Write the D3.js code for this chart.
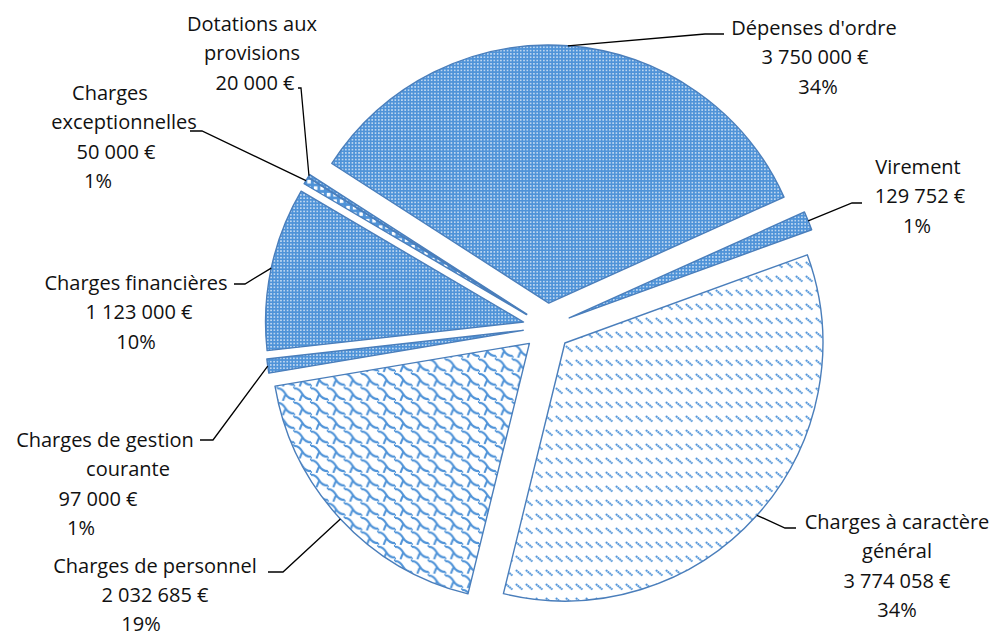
<!DOCTYPE html>
<html>
<head>
<meta charset="utf-8">
<script src="https://cdn.jsdelivr.net/npm/d3@7"></script>
<style>
  body { margin: 0; background: #fff; }
  text { font-family: "Open Sans", sans-serif; font-size: 20px; fill: #111; }
</style>
</head>
<body>
<script>
// budget lines, in the order Excel draws them (clockwise)
var categories = ["Charges à caractère général", "Charges de personnel", "Charges de gestion courante",
                  "Charges financières", "Charges exceptionnelles", "Dotations aux provisions",
                  "Dépenses d'ordre", "Virement"];
var nameLines = [["Charges à caractère", "général"], ["Charges de personnel"], ["Charges de gestion", "courante"],
                 ["Charges financières"], ["Charges", "exceptionnelles"], ["Dotations aux", "provisions"],
                 ["Dépenses d'ordre"], ["Virement"]];
var amounts = [3774058, 2032685, 97000, 1123000, 50000, 20000, 3750000, 129752];
var percentLabels = ["34%", "19%", "1%", "10%", "1%", "", "34%", "1%"];
var patterns = ["dash", "shingle", "dots", "dots", "grid", "dots", "dots", "dots"];

var width = 997,
    height = 636,
    cx = 547, cy = 327,
    radius = 258,
    explode = 24,
    lineH = 29.3,
    blue = '#4f93d8',
    edge = '#4a7ebb';

var fr = d3.formatLocale({decimal: ',', thousands: ' ', grouping: [3], currency: ['', ' €']});
var money = fr.format('$,.0f');

// label placement: x of each line centre, first baseline, leader elbow and end
var layout = [
    {xs: [897, 897, 897, 897], y: 529, elbow: [785, 528], end: [796, 528]},
    {xs: [155, 155, 141],      y: 573, elbow: [283, 572], end: [268, 572]},
    {xs: [105, 128, 98, 81],   y: 447, elbow: [213, 440], end: [200, 440]},
    {xs: [136, 139, 136],      y: 290, elbow: [245, 284], end: [234, 284]},
    {xs: [110, 124, 116, 98],  y: 100, elbow: [202, 131], end: [190, 131]},
    {xs: [252, 252, 255],      y: 31,  elbow: [301, 88],  end: [298, 88]},
    {xs: [814, 815, 818],      y: 35,  elbow: [705, 34],  end: [724, 34]},
    {xs: [918, 920, 917],      y: 174, elbow: [852, 203], end: [862, 203]}
];

var svg = d3.select('body').append('svg')
    .attr('width', width)
    .attr('height', height);

var defs = svg.append('defs');

var p = defs.append('pattern').attr('id', 'dots')
    .attr('patternUnits', 'userSpaceOnUse').attr('width', 3.3).attr('height', 3.3);
p.append('rect').attr('width', 3.3).attr('height', 3.3).attr('fill', blue);
p.append('rect').attr('x', 1).attr('y', 1).attr('width', 1.3).attr('height', 1.3).attr('fill', '#fff');

p = defs.append('pattern').attr('id', 'grid')
    .attr('patternUnits', 'userSpaceOnUse').attr('width', 6.5).attr('height', 6.5);
p.append('rect').attr('width', 6.5).attr('height', 6.5).attr('fill', blue);
p.append('rect').attr('x', 1.8).attr('y', 1.8).attr('width', 3.6).attr('height', 3.6).attr('fill', '#fff');

p = defs.append('pattern').attr('id', 'dash')
    .attr('patternUnits', 'userSpaceOnUse').attr('width', 10).attr('height', 14);
p.append('rect').attr('width', 10).attr('height', 14).attr('fill', '#fff');
p.append('line').attr('x1', 1).attr('y1', 3).attr('x2', 7.5).attr('y2', 8.5)
    .attr('stroke', blue).attr('stroke-width', 2).attr('stroke-dasharray', '1.8 0.5');

p = defs.append('pattern').attr('id', 'shingle')
    .attr('patternUnits', 'userSpaceOnUse').attr('width', 14).attr('height', 12)
    .attr('patternTransform', 'scale(1.2)');
p.append('rect').attr('width', 14).attr('height', 12).attr('fill', '#fff');
p.append('path')
    .attr('d', 'M0,1.5 C3.5,1.5 5,3.5 7,6.5 C8.5,9 10.5,10.5 14,10.5 M7,6.5 C5.5,8.5 5.5,10 4.5,12 M14,-1.5 L14,1.5 M0,10.5 L0,13')
    .attr('fill', 'none').attr('stroke', blue).attr('stroke-width', 1.7);

var pie = d3.pie().sort(null).value((d) => d)
    .startAngle(70 * Math.PI / 180)
    .endAngle(70 * Math.PI / 180 + 2 * Math.PI);

var arcs = pie(amounts);
var arc = d3.arc().innerRadius(0).outerRadius(radius);

function dir(d) {
    var a = (d.startAngle + d.endAngle) / 2;
    return [Math.sin(a), -Math.cos(a)];
}

var chart = svg.append('g').attr('transform', 'translate(' + cx + ',' + cy + ')');

chart.selectAll('path.slice')
    .data(arcs)
    .enter()
    .append('path')
    .attr('class', 'slice')
    .attr('transform', (d) => { var u = dir(d); return 'translate(' + u[0] * explode + ',' + u[1] * explode + ')'; })
    .attr('d', arc)
    .attr('fill', (d, i) => 'url(#' + patterns[i] + ')')
    .attr('stroke', edge)
    .attr('stroke-width', 1.4)
    .attr('stroke-linejoin', 'round');

// leader lines from the middle of each arc
svg.append('g').selectAll('polyline')
    .data(arcs)
    .enter()
    .append('polyline')
    .attr('points', (d, i) => {
        var u = dir(d), k = explode + radius;
        return [[cx + u[0] * k, cy + u[1] * k], layout[i].elbow, layout[i].end].join(' ');
    })
    .attr('fill', 'none')
    .attr('stroke', '#000')
    .attr('stroke-width', 1.3);

var labels = svg.append('g').selectAll('text')
    .data(categories)
    .enter()
    .append('text')
    .attr('text-anchor', 'middle');

labels.each(function(name, i) {
    var lines = nameLines[i].concat([money(amounts[i])]);
    if (percentLabels[i]) lines.push(percentLabels[i]);
    d3.select(this).selectAll('tspan')
        .data(lines)
        .enter()
        .append('tspan')
        .attr('x', (t, j) => layout[i].xs[j])
        .attr('y', (t, j) => layout[i].y + j * (i === 1 ? 29 : lineH))
        .text((t) => t);
});
</script>
</body>
</html>
